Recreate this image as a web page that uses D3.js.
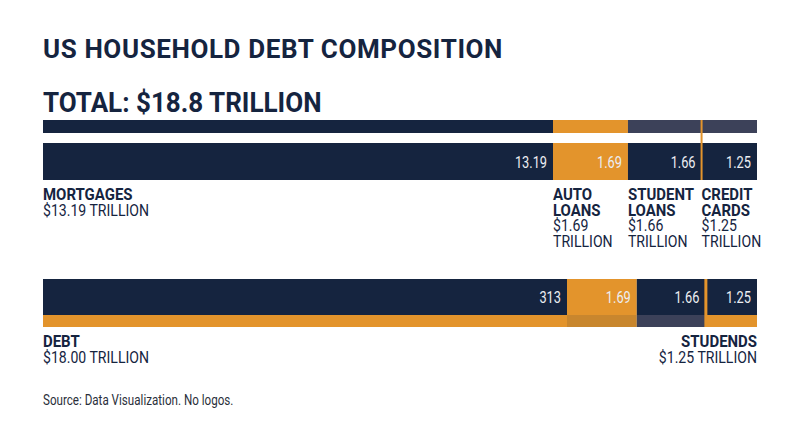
<!DOCTYPE html>
<html>
<head>
<meta charset="utf-8">
<style>
    body {
        margin: 0;
        background: #ffffff;
    }
    svg {
        display: block;
        font-family: Roboto, 'Noto Sans', sans-serif;
    }
</style>
</head>
<body>
<svg width="800" height="447"></svg>

<script src="https://d3js.org/d3.v7.min.js"></script>
<script>
    // chart data
    const title = "US HOUSEHOLD DEBT COMPOSITION"
    const subtitle = "TOTAL: $18.8 TRILLION"
    const source = "Source: Data Visualization. No logos."

    const categories = ["MORTGAGES", "AUTO LOANS", "STUDENT LOANS", "CREDIT CARDS"]
    const values = [13.19, 1.69, 1.66, 1.25]
    const valueLabels = ["13.19", "1.69", "1.66", "1.25"]

    const lowerValues = [13.40, 1.69, 1.66, 1.25]
    const lowerLabels = ["313", "1.69", "1.66", "1.25"]
    const lowerLeft = ["DEBT", "$18.00 TRILLION"]
    const lowerRight = ["STUDENDS", "$1.25 TRILLION"]

    // colours
    const navy = "#15243f"
    const orange = "#e3942c"
    const darkOrange = "#c8862e"
    const slate = "#3c4159"
    const ink = "#15243f"

    const topStrip = [navy, orange, slate, slate]
    const mainFill = [navy, orange, navy, navy]
    const lowerStrip = [orange, darkOrange, slate, orange]

    let svg = d3.select("svg")

    // the big mortgage block is drawn with a broken (two piece) scale
    let x1 = d3.scaleLinear()
        .domain([0, values[0], d3.sum(values)])
        .range([43, 553, 757])
    let x2 = d3.scaleLinear()
        .domain([0, lowerValues[0], d3.sum(lowerValues)])
        .range([43, 567, 757])

    function stack(vals) {
        let ends = Array.from(d3.cumsum(vals))
        return vals.map((v, i) => ({ i: i, start: ends[i] - v, end: ends[i] }))
    }

    function txt(parent, x, y, s, size, weight, anchor, fill, sx) {
        return parent.append("text")
            .attr("transform", `translate(${x},${y}) scale(${sx},1)`)
            .attr("text-anchor", anchor)
            .attr("font-size", size)
            .attr("font-weight", weight)
            .attr("fill", fill)
            .text(s)
    }

    // titles
    txt(svg, 43, 58, title, 26, 700, "start", ink, 1.0)
        .attr("letter-spacing", 0.6)
    txt(svg, 43, 112, subtitle, 28, 700, "start", ink, 0.93)

    // ---- upper bar ----
    let seg1 = stack(values)
    let g1 = svg.append("g")

    g1.selectAll(".strip")
        .data(seg1)
        .join("rect")
        .attr("x", d => x1(d.start))
        .attr("width", d => x1(d.end) - x1(d.start))
        .attr("y", 120)
        .attr("height", 13)
        .attr("fill", d => topStrip[d.i])

    g1.selectAll(".bar")
        .data(seg1)
        .join("rect")
        .attr("x", d => x1(d.start))
        .attr("width", d => x1(d.end) - x1(d.start))
        .attr("y", 143)
        .attr("height", 37)
        .attr("fill", d => mainFill[d.i])

    // thin orange divider before credit cards
    g1.append("rect")
        .attr("x", x1(seg1[3].start) - 1)
        .attr("width", 2)
        .attr("y", 120)
        .attr("height", 60)
        .attr("fill", orange)

    seg1.forEach(d => {
        txt(g1, x1(d.end) - 6, 168, valueLabels[d.i], 16, 400, "end", "#eceef2", 0.8)
    })

    // category labels under the bar
    seg1.forEach(d => {
        let lines
        if (d.i === 0) {
            lines = [[categories[0], true], ["$" + values[0] + " TRILLION", false]]
        } else {
            lines = categories[d.i].split(" ").map(w => [w, true])
                .concat([["$" + values[d.i], false], ["TRILLION", false]])
        }
        lines.forEach((l, k) => {
            txt(g1, x1(d.start), 200 + k * 15.7, l[0], l[1] ? 17 : 16, l[1] ? 700 : 400, "start", ink, 0.88)
        })
    })

    // ---- lower bar ----
    let seg2 = stack(lowerValues)
    let g2 = svg.append("g")

    g2.selectAll(".bar")
        .data(seg2)
        .join("rect")
        .attr("x", d => x2(d.start))
        .attr("width", d => x2(d.end) - x2(d.start))
        .attr("y", 279)
        .attr("height", 36)
        .attr("fill", d => mainFill[d.i])

    g2.selectAll(".strip")
        .data(seg2)
        .join("rect")
        .attr("x", d => x2(d.start))
        .attr("width", d => x2(d.end) - x2(d.start))
        .attr("y", 315)
        .attr("height", 12)
        .attr("fill", d => lowerStrip[d.i])

    g2.append("rect")
        .attr("x", x2(seg2[3].start) - 1)
        .attr("width", 3)
        .attr("y", 279)
        .attr("height", 48)
        .attr("fill", orange)

    seg2.forEach(d => {
        txt(g2, x2(d.end) - 6, 303, lowerLabels[d.i], 16, 400, "end", "#eceef2", 0.8)
    })

    txt(g2, 43, 347, lowerLeft[0], 17, 700, "start", ink, 0.88)
    txt(g2, 43, 363, lowerLeft[1], 16, 400, "start", ink, 0.88)
    txt(g2, 757, 347, lowerRight[0], 17, 700, "end", ink, 0.88)
    txt(g2, 757, 363, lowerRight[1], 16, 400, "end", ink, 0.88)

    // footnote
    txt(svg, 43, 405, source, 14, 400, "start", "#2a2f3a", 0.83)
</script>
</body>
</html>
